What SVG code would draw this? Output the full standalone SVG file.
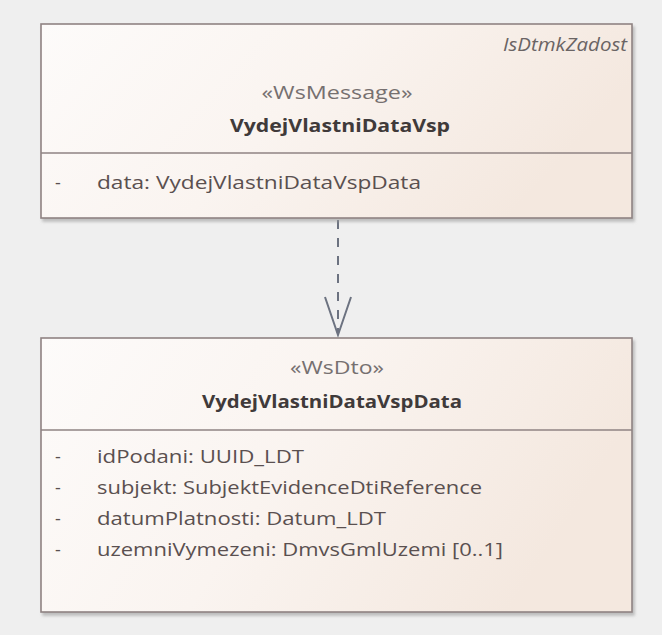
<svg xmlns="http://www.w3.org/2000/svg" width="662" height="635" viewBox="0 0 662 635">
<defs>
<linearGradient id="fill" x1="0" y1="0" x2="1" y2="0.3">
<stop offset="0" stop-color="#fdfbfa"/>
<stop offset="0.5" stop-color="#faf4f0"/>
<stop offset="1" stop-color="#f4e8df"/>
</linearGradient>
<filter id="sh" x="-5%" y="-5%" width="110%" height="115%">
<feDropShadow dx="2" dy="3" stdDeviation="1.5" flood-color="#9a9a9a" flood-opacity="0.6"/>
</filter>
</defs>
<style>
.box{fill:url(#fill);stroke:#8f8383;stroke-width:1.6;}
.div{stroke:#8f8383;stroke-width:1.4;}
text{font-family:"Open Sans","Noto Sans","DejaVu Sans",sans-serif;font-size:18px;}
.st{fill:#767070;text-anchor:middle;}
.ti{fill:#403a3a;font-weight:bold;text-anchor:middle;}
.at{fill:#5a5050;}
.ns{fill:#6a6464;font-style:italic;text-anchor:end;}
.con{stroke:#6c7280;stroke-width:2;fill:none;}
</style>
<rect width="662" height="635" fill="#efefef"/>
<g id="connectors">
<line class="con" x1="338" y1="220" x2="338" y2="334" stroke-dasharray="9,9"/>
<polyline class="con" points="325,297 338,335 351,297"/>
</g>
<g id="VydejVlastniDataVsp">
<rect class="box" x="41" y="24" width="591" height="194" filter="url(#sh)"/>
<line class="div" x1="41" y1="153" x2="632" y2="153"/>
<text class="ns" x="627" y="51" textLength="124" lengthAdjust="spacingAndGlyphs">IsDtmkZadost</text>
<text class="st" x="337" y="99" textLength="151" lengthAdjust="spacingAndGlyphs">«WsMessage»</text>
<text class="ti" x="340" y="132" textLength="220" lengthAdjust="spacingAndGlyphs">VydejVlastniDataVsp</text>
<text class="at" x="55" y="189">-</text>
<text class="at" x="97" y="189" textLength="324" lengthAdjust="spacingAndGlyphs">data: VydejVlastniDataVspData</text>
</g>
<g id="VydejVlastniDataVspData">
<rect class="box" x="41" y="338" width="591" height="274" filter="url(#sh)"/>
<line class="div" x1="41" y1="430" x2="632" y2="430"/>
<text class="st" x="337" y="374" textLength="94" lengthAdjust="spacingAndGlyphs">«WsDto»</text>
<text class="ti" x="332" y="408" textLength="260" lengthAdjust="spacingAndGlyphs">VydejVlastniDataVspData</text>
<text class="at" x="55" y="463">-</text>
<text class="at" x="97" y="463" textLength="207" lengthAdjust="spacingAndGlyphs">idPodani: UUID_LDT</text>
<text class="at" x="55" y="494">-</text>
<text class="at" x="97" y="494" textLength="385" lengthAdjust="spacingAndGlyphs">subjekt: SubjektEvidenceDtiReference</text>
<text class="at" x="55" y="525">-</text>
<text class="at" x="97" y="525" textLength="289" lengthAdjust="spacingAndGlyphs">datumPlatnosti: Datum_LDT</text>
<text class="at" x="55" y="556">-</text>
<text class="at" x="97" y="556" textLength="406" lengthAdjust="spacingAndGlyphs">uzemniVymezeni: DmvsGmlUzemi [0..1]</text>
</g>
</svg>
